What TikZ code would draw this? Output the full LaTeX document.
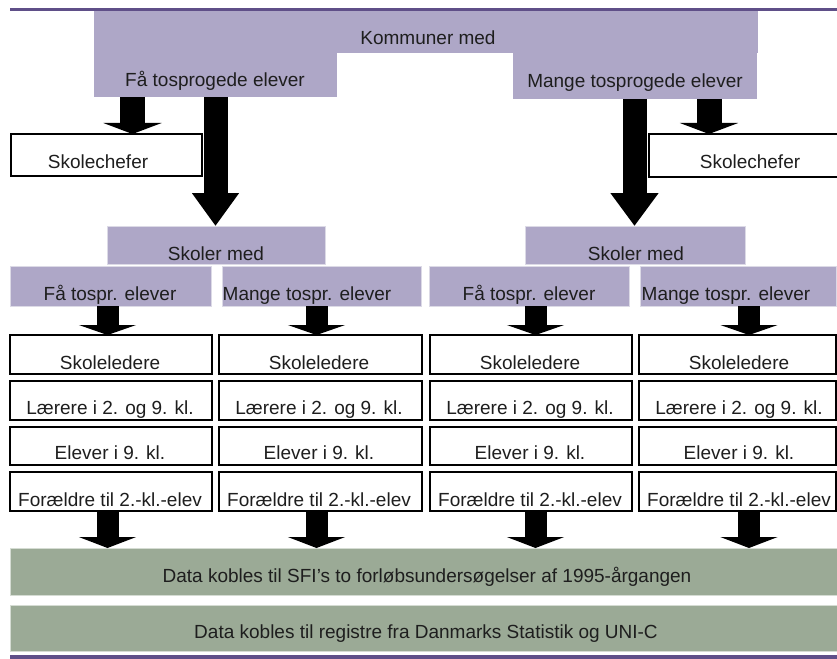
\documentclass[tikz,border=0pt]{standalone}
\usepackage{fontspec}
\setmainfont{Liberation Sans}
\usetikzlibrary{arrows.meta}
\definecolor{lilac}{HTML}{AEA7C7}
\definecolor{lilacedge}{HTML}{DCDAE6}
\definecolor{sage}{HTML}{9BAA96}
\definecolor{sageedge}{HTML}{D5DCD3}
\definecolor{plum}{HTML}{5F4F88}
\definecolor{ink}{HTML}{1E1E1E}
\newcommand\boxnode[6]{\node[#2, minimum width={(#5-#3)*1bp}, minimum height={(#6-#4)*1bp}] (#1) at ({(#3+#5)/2},{(#4+#6)/2}) {};}
\begin{document}
\begin{tikzpicture}[x=1bp,y=-1bp,
  every node/.style={inner sep=0pt, outer sep=0pt},
  rectbox/.style={rectangle, draw=black, line width=1.3bp, fill=white},
  lilacbox/.style={rectangle, fill=lilac, draw=lilacedge, line width=1bp},
  lilacplain/.style={rectangle, fill=lilac},
  sagebox/.style={rectangle, fill=sage, draw=sageedge, line width=1bp},
  txt/.style={font=\fontsize{19bp}{23bp}\selectfont, text=ink, anchor=base},
  blk/.style args={#1/#2/#3}{draw=black, line width=#1, -{Triangle[width=#2,length=#3]}},
]
\useasboundingbox (0,0) rectangle (837,659);
% rules
\fill[plum] (10,8) rectangle (837,11);
\fill[plum] (10,655) rectangle (837,659);
% kommuner
\boxnode{komTop}{lilacplain}{94}{11}{758}{53}
\boxnode{komFew}{lilacplain}{94}{52}{337}{97}
\boxnode{komMany}{lilacplain}{513}{52}{757}{99}
\node[txt] (tKom) at (428,45) {Kommuner med};
\node[txt] (tKomFew) at (215,87) {Få tosprogede elever};
\node[txt] (tKomMany) at (635,88) {Mange tosprogede elever};
% skolechefer
\boxnode{schefL}{rectbox}{11}{134}{202}{176}
\boxnode{schefR}{rectbox}{649}{134}{855}{177}
\node[txt] (tSchefL) at (98,168) {Skolechefer};
\node[txt] (tSchefR) at (750,168) {Skolechefer};
% skoler med
\boxnode{skolerL}{lilacbox}{107}{226}{325}{264}
\boxnode{skolerR}{lilacbox}{525}{226}{745}{264}
\node[txt] (tSkolerL) at (216,260) {Skoler med};
\node[txt] (tSkolerR) at (636,260) {Skoler med};
\boxnode{faL}{lilacbox}{10}{266}{211}{306}
\boxnode{mangeL}{lilacbox}{222}{266}{421}{306}
\boxnode{faR}{lilacbox}{429}{266}{629}{306}
\boxnode{mangeR}{lilacbox}{640}{266}{836}{306}
\node[txt] (tFaL) at (110,300) {Få tospr. elever};
\node[txt] (tMangeL) at (307,300) {Mange tospr. elever};
\node[txt] (tFaR) at (529,300) {Få tospr. elever};
\node[txt] (tMangeR) at (726,300) {Mange tospr. elever};
% columns
\foreach \c/\xa/\xb/\xt in {1/10/212/110, 2/219/422/319, 3/430/632/530, 4/639/836/739}{
  \boxnode{lead\c}{rectbox}{\xa}{335}{\xb}{374}
  \boxnode{teach\c}{rectbox}{\xa}{381}{\xb}{420}
  \boxnode{pup\c}{rectbox}{\xa}{427}{\xb}{465}
  \boxnode{par\c}{rectbox}{\xa}{472}{\xb}{511}
  \node[txt] (tLead\c) at (\xt,369) {Skoleledere};
  \node[txt] (tTeach\c) at (\xt,414) {Lærere i 2. og 9. kl.};
  \node[txt] (tPup\c) at (\xt,459) {Elever i 9. kl.};
  \node[txt] (tPar\c) at (\xt,506) {Forældre til 2.-kl.-elev};
}
% data boxes
\boxnode{data1}{sagebox}{10}{548}{842}{595}
\boxnode{data2}{sagebox}{10}{605}{842}{651}
\node[txt] (tData1) at (427,582) {Data kobles til SFI's to forløbsundersøgelser af 1995-årgangen};
\node[txt] (tData2) at (426,638) {Data kobles til registre fra Danmarks Statistik og UNI-C};
% arrow columns
\coordinate (xa) at (132.5,0);
\coordinate (xb) at (215.5,0);
\coordinate (xc) at (634.5,0);
\coordinate (xd) at (709,0);
\coordinate (x1) at (107.5,0);
\coordinate (x2) at (316.5,0);
\coordinate (x3) at (535.5,0);
\coordinate (x4) at (749,0);
% arrows
\draw[blk=25bp/58bp/11bp] (xa |- komFew.south) -- (xa |- schefL.north);
\draw[blk=24bp/45bp/33bp] (xb |- komFew.south) -- (xb |- skolerL.north);
\draw[blk=24bp/46bp/33bp] (xc |- komMany.south) -- (xc |- skolerR.north);
\draw[blk=25bp/58bp/11bp] (xd |- komMany.south) -- (xd |- schefR.north);
\draw[blk=22bp/57bp/10bp] (x1 |- faL.south) -- (x1 |- lead1.north);
\draw[blk=22bp/57bp/10bp] (x2 |- mangeL.south) -- (x2 |- lead2.north);
\draw[blk=22bp/57bp/10bp] (x3 |- faR.south) -- (x3 |- lead3.north);
\draw[blk=22bp/57bp/10bp] (x4 |- mangeR.south) -- (x4 |- lead4.north);
\draw[blk=22bp/57bp/11bp] (x1 |- par1.south) -- (x1 |- data1.north);
\draw[blk=22bp/57bp/11bp] (x2 |- par2.south) -- (x2 |- data1.north);
\draw[blk=22bp/57bp/11bp] (x3 |- par3.south) -- (x3 |- data1.north);
\draw[blk=22bp/57bp/11bp] (x4 |- par4.south) -- (x4 |- data1.north);
\end{tikzpicture}
\end{document}
